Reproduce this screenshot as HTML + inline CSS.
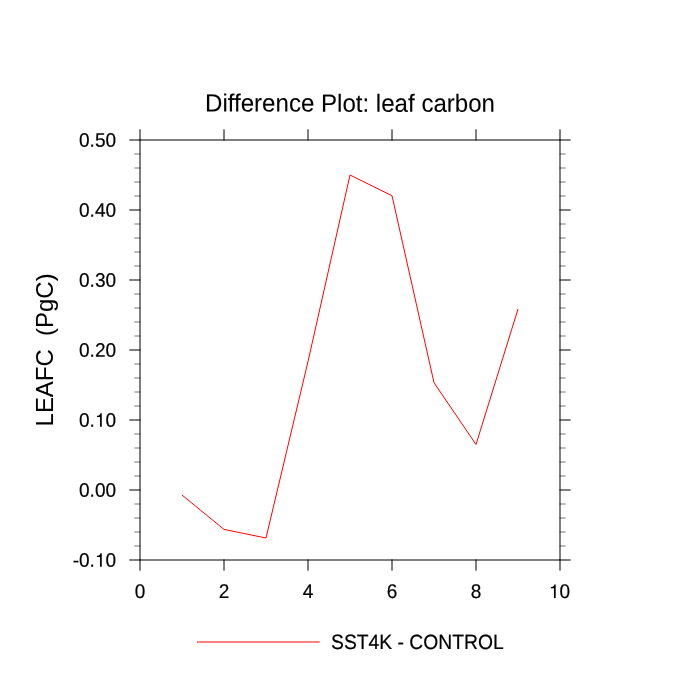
<!DOCTYPE html>
<html><head><meta charset="utf-8"><title>Difference Plot: leaf carbon</title>
<style>
html,body{margin:0;padding:0;background:#fff;}
body{width:700px;height:700px;overflow:hidden;}
svg{display:block;will-change:transform;}
text{font-family:"Liberation Sans",sans-serif;fill:#000;stroke:#000;stroke-width:0.2px;}
.t{font-size:19.3px;}
.h{font-size:24.1px;}
</style></head><body>
<svg width="700" height="700" viewBox="0 0 700 700">
<rect width="700" height="700" fill="#fff"/>
<g stroke="#000" stroke-width="1.0" fill="none" stroke-linecap="butt">
<rect x="140" y="140" width="420" height="420"/>
<line x1="140" y1="129.3" x2="140" y2="140.55"/><line x1="140" y1="559.45" x2="140" y2="570.7"/>
<line x1="224" y1="129.3" x2="224" y2="140.55"/><line x1="224" y1="559.45" x2="224" y2="570.7"/>
<line x1="308" y1="129.3" x2="308" y2="140.55"/><line x1="308" y1="559.45" x2="308" y2="570.7"/>
<line x1="392" y1="129.3" x2="392" y2="140.55"/><line x1="392" y1="559.45" x2="392" y2="570.7"/>
<line x1="476" y1="129.3" x2="476" y2="140.55"/><line x1="476" y1="559.45" x2="476" y2="570.7"/>
<line x1="560" y1="129.3" x2="560" y2="140.55"/><line x1="560" y1="559.45" x2="560" y2="570.7"/>
<line x1="129.3" y1="140" x2="140.55" y2="140"/><line x1="559.45" y1="140" x2="570.7" y2="140"/>
<line x1="129.3" y1="210" x2="140.55" y2="210"/><line x1="559.45" y1="210" x2="570.7" y2="210"/>
<line x1="129.3" y1="280" x2="140.55" y2="280"/><line x1="559.45" y1="280" x2="570.7" y2="280"/>
<line x1="129.3" y1="350" x2="140.55" y2="350"/><line x1="559.45" y1="350" x2="570.7" y2="350"/>
<line x1="129.3" y1="420" x2="140.55" y2="420"/><line x1="559.45" y1="420" x2="570.7" y2="420"/>
<line x1="129.3" y1="490" x2="140.55" y2="490"/><line x1="559.45" y1="490" x2="570.7" y2="490"/>
<line x1="129.3" y1="560" x2="140.55" y2="560"/><line x1="559.45" y1="560" x2="570.7" y2="560"/>
</g>
<g stroke="#000" stroke-width="0.55" fill="none">
<line x1="134.4" y1="154" x2="140.5" y2="154"/><line x1="559.5" y1="154" x2="565.6" y2="154"/>
<line x1="134.4" y1="168" x2="140.5" y2="168"/><line x1="559.5" y1="168" x2="565.6" y2="168"/>
<line x1="134.4" y1="182" x2="140.5" y2="182"/><line x1="559.5" y1="182" x2="565.6" y2="182"/>
<line x1="134.4" y1="196" x2="140.5" y2="196"/><line x1="559.5" y1="196" x2="565.6" y2="196"/>
<line x1="134.4" y1="224" x2="140.5" y2="224"/><line x1="559.5" y1="224" x2="565.6" y2="224"/>
<line x1="134.4" y1="238" x2="140.5" y2="238"/><line x1="559.5" y1="238" x2="565.6" y2="238"/>
<line x1="134.4" y1="252" x2="140.5" y2="252"/><line x1="559.5" y1="252" x2="565.6" y2="252"/>
<line x1="134.4" y1="266" x2="140.5" y2="266"/><line x1="559.5" y1="266" x2="565.6" y2="266"/>
<line x1="134.4" y1="294" x2="140.5" y2="294"/><line x1="559.5" y1="294" x2="565.6" y2="294"/>
<line x1="134.4" y1="308" x2="140.5" y2="308"/><line x1="559.5" y1="308" x2="565.6" y2="308"/>
<line x1="134.4" y1="322" x2="140.5" y2="322"/><line x1="559.5" y1="322" x2="565.6" y2="322"/>
<line x1="134.4" y1="336" x2="140.5" y2="336"/><line x1="559.5" y1="336" x2="565.6" y2="336"/>
<line x1="134.4" y1="364" x2="140.5" y2="364"/><line x1="559.5" y1="364" x2="565.6" y2="364"/>
<line x1="134.4" y1="378" x2="140.5" y2="378"/><line x1="559.5" y1="378" x2="565.6" y2="378"/>
<line x1="134.4" y1="392" x2="140.5" y2="392"/><line x1="559.5" y1="392" x2="565.6" y2="392"/>
<line x1="134.4" y1="406" x2="140.5" y2="406"/><line x1="559.5" y1="406" x2="565.6" y2="406"/>
<line x1="134.4" y1="434" x2="140.5" y2="434"/><line x1="559.5" y1="434" x2="565.6" y2="434"/>
<line x1="134.4" y1="448" x2="140.5" y2="448"/><line x1="559.5" y1="448" x2="565.6" y2="448"/>
<line x1="134.4" y1="462" x2="140.5" y2="462"/><line x1="559.5" y1="462" x2="565.6" y2="462"/>
<line x1="134.4" y1="476" x2="140.5" y2="476"/><line x1="559.5" y1="476" x2="565.6" y2="476"/>
<line x1="134.4" y1="504" x2="140.5" y2="504"/><line x1="559.5" y1="504" x2="565.6" y2="504"/>
<line x1="134.4" y1="518" x2="140.5" y2="518"/><line x1="559.5" y1="518" x2="565.6" y2="518"/>
<line x1="134.4" y1="532" x2="140.5" y2="532"/><line x1="559.5" y1="532" x2="565.6" y2="532"/>
<line x1="134.4" y1="546" x2="140.5" y2="546"/><line x1="559.5" y1="546" x2="565.6" y2="546"/>
</g>
<polyline fill="none" stroke="#ff0000" stroke-width="1" stroke-linejoin="miter" points="182,495 224,529.4 266,538 308,361.5 350,175 392,195.7 434,382.7 476,444.5 518,309"/>
<line x1="197" y1="642" x2="319.7" y2="642" stroke="#ff0000" stroke-width="1"/>
<text transform="translate(350,111.65) rotate(0.03) scale(0.9675,1)" font-size="24.9" style="stroke-width:0.06px" text-anchor="middle">Difference Plot: leaf carbon</text>
<text transform="translate(53.3,349.9) rotate(-90) scale(0.97,1)" font-size="24.7" style="stroke-width:0.06px" text-anchor="middle" xml:space="preserve">LEAFC  (PgC)</text>
<text transform="translate(116.1,146.85) rotate(0.03) scale(0.97,1)" font-size="19.65" text-anchor="end">0.50</text>
<text transform="translate(116.1,216.85) rotate(0.03) scale(0.97,1)" font-size="19.65" text-anchor="end">0.40</text>
<text transform="translate(116.1,286.85) rotate(0.03) scale(0.97,1)" font-size="19.65" text-anchor="end">0.30</text>
<text transform="translate(116.1,356.85) rotate(0.03) scale(0.97,1)" font-size="19.65" text-anchor="end">0.20</text>
<text transform="translate(116.1,426.85) rotate(0.03) scale(0.97,1)" font-size="19.65" text-anchor="end">0.<tspan visibility="hidden">1</tspan>0</text>
<path transform="translate(94.90,426.85) scale(0.01906,-0.01940)" d="M359 0H271V507H108V566C196 571 270 596 299 705H359Z" fill="#000" stroke="#000" stroke-width="4"/>
<text transform="translate(116.1,496.85) rotate(0.03) scale(0.97,1)" font-size="19.65" text-anchor="end">0.00</text>
<text transform="translate(116.1,566.85) rotate(0.03) scale(0.97,1)" font-size="19.65" text-anchor="end">-0.<tspan visibility="hidden">1</tspan>0</text>
<path transform="translate(94.90,566.85) scale(0.01906,-0.01940)" d="M359 0H271V507H108V566C196 571 270 596 299 705H359Z" fill="#000" stroke="#000" stroke-width="4"/>
<text transform="translate(140,598.1) rotate(0.03) scale(0.96,1)" font-size="19.8" text-anchor="middle">0</text>
<text transform="translate(224,598.1) rotate(0.03) scale(0.96,1)" font-size="19.8" text-anchor="middle">2</text>
<text transform="translate(308,598.1) rotate(0.03) scale(0.96,1)" font-size="19.8" text-anchor="middle">4</text>
<text transform="translate(392,598.1) rotate(0.03) scale(0.96,1)" font-size="19.8" text-anchor="middle">6</text>
<text transform="translate(476,598.1) rotate(0.03) scale(0.96,1)" font-size="19.8" text-anchor="middle">8</text>
<path transform="translate(548.83,598.10) scale(0.01900,-0.01940)" d="M359 0H271V507H108V566C196 571 270 596 299 705H359Z" fill="#000" stroke="#000" stroke-width="4"/>
<text transform="translate(559.4,598.1) rotate(0.03) scale(0.96,1)" font-size="19.8" text-anchor="middle"><tspan visibility="hidden">1</tspan>0</text>
<text transform="translate(331.1,649) rotate(0.03) scale(0.932,1)" font-size="20.7">SST4K - CONTROL</text>
</svg>
</body></html>
